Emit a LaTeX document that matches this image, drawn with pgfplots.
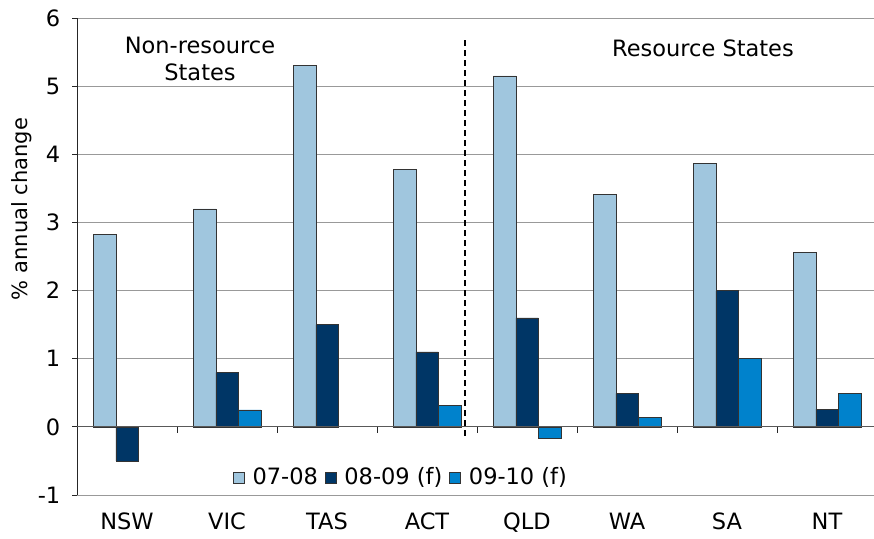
\documentclass[border=0pt]{standalone}
\usepackage{pgfplots}
\pgfplotsset{compat=1.18}
\usepackage{fontspec}
\setmainfont{DejaVu Sans}
\definecolor{cA}{RGB}{160,198,222}
\definecolor{cB}{RGB}{0,54,102}
\definecolor{cC}{RGB}{0,130,204}
\begin{document}
\fontsize{22.5}{27}\selectfont
\begin{tikzpicture}
\begin{axis}[
  at={(77pt,43pt)}, anchor=south west,
  scale only axis, width=797pt, height=477pt,
  xmin=-0.5, xmax=7.47, ymin=-1, ymax=6,
  ybar=0pt, bar width=22.5pt,
  separate axis lines,
  axis x line*=bottom, axis y line*=left,
  x axis line style={draw=none},
  y axis line style={draw=black!85, line width=0.8pt},
  xtick={0,...,7},
  xticklabels={NSW,VIC,TAS,ACT,QLD,WA,SA,NT},
  xtick style={draw=none},
  xticklabel style={yshift=-5pt},
  ytick={-1,0,...,6},
  ytick style={draw=black!85, line width=0.8pt},
  tick align=outside, major tick length=5pt,
  yticklabel style={xshift=-4pt},
  /pgf/number format/assume math mode=true,
  ymajorgrids, grid style={draw=black!40, line width=0.8pt},
  legend style={draw=none, fill=none, at={(axis cs:2.74,-0.75)}, anchor=center,
    legend columns=-1,
    /tikz/every odd column/.append style={column sep=6pt},
    /tikz/every even column/.append style={column sep=5pt},
    font=\fontsize{22.5}{27}\selectfont},
  legend image code/.code={\draw[#1, draw=black!80, line width=0.5pt] (0pt,-5.5pt) rectangle (11pt,5.5pt);},
]
\addplot[fill=cA, draw=black!80, line width=0.5pt] coordinates {
  (0,2.82) (1,3.2) (2,5.3) (3,3.78) (4,5.15) (5,3.41) (6,3.87) (7,2.56)};
\addplot[fill=cB, draw=black!80, line width=0.5pt] coordinates {
  (0,-0.5) (1,0.8) (2,1.5) (3,1.1) (4,1.6) (5,0.49) (6,2.0) (7,0.26)};
\addplot[fill=cC, draw=black!80, line width=0.5pt] coordinates {
  (1,0.25) (3,0.32) (4,-0.16) (5,0.14) (6,1.0) (7,0.49)};
\legend{07-08,08-09 (f),09-10 (f)}
\draw[black!65, line width=0.8pt] (axis cs:-0.5,0) -- (axis cs:7.47,0);
\pgfplotsinvokeforeach{0.5,1.5,2.5,3.5,4.5,5.5,6.5}{\draw[black!85, line width=0.8pt] (axis cs:#1,0) -- (axis cs:#1,-0.09);}
\draw[black, line width=1.5pt, dash pattern=on 6pt off 4pt] (axis cs:3.38,-0.13) -- (axis cs:3.38,5.72);
\node[align=center, font=\fontsize{22.5}{27}\selectfont] at (axis cs:0.73,5.4) {Non-resource\\States};
\node[font=\fontsize{22.5}{27}\selectfont] at (axis cs:5.76,5.56) {Resource States};
\end{axis}
\node[rotate=90, font=\fontsize{21}{25}\selectfont] at (22pt,329pt) {\% annual change};
\pgfresetboundingbox
\useasboundingbox (0,0) rectangle (874pt,538pt);
\end{tikzpicture}
\end{document}
